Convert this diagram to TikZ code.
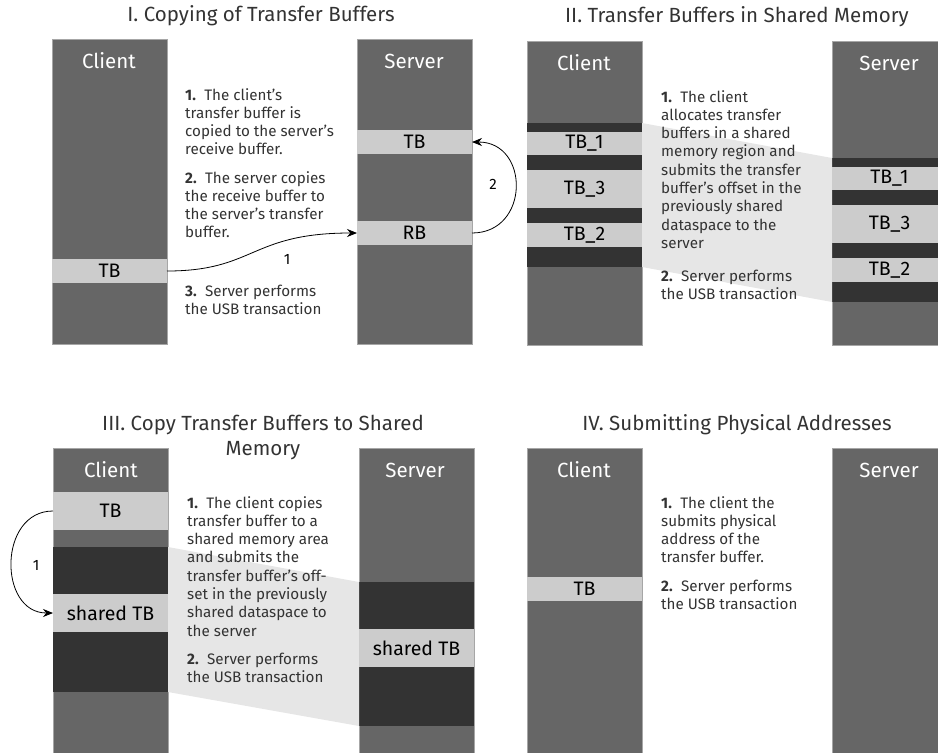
\documentclass[tikz,border=0pt]{standalone}
\usepackage{fontspec}
\setmainfont{Fira Sans}
\usetikzlibrary{arrows.meta}

\definecolor{barfill}{HTML}{666666}
\definecolor{bandfill}{HTML}{333333}
\definecolor{buffill}{HTML}{CCCCCC}
\definecolor{shadefill}{HTML}{E6E6E6}
\definecolor{inktext}{HTML}{333333}
\definecolor{barline}{HTML}{A6A6A6}

\newcommand\stepno[1]{\textbf{#1}\hspace{0.55em}}

\tikzset{
  mem/.style={fill=barfill, draw=barline, line width=0.6pt, inner sep=0pt, outer sep=0pt,
              anchor=north west, minimum width=115},
  band/.style={fill=bandfill, inner sep=0pt, outer sep=0pt, anchor=north west, minimum width=115},
  buf/.style={fill=buffill, inner sep=0pt, outer sep=0pt, anchor=north west, minimum width=115,
              text=black, font=\fontsize{19.5}{19.5}\selectfont},
  barname/.style={text=white, font=\fontsize{20.5}{20.5}\selectfont, inner sep=0pt},
  paneltitle/.style={text=inktext, font=\fontsize{20.5}{25}\selectfont, align=center, inner sep=0pt},
  steptext/.style={text=inktext, font=\fontsize{15.2}{18.3}\selectfont, align=left, anchor=north west, inner sep=0pt},
  conn/.style={draw=black, line width=0.8pt, -{Stealth[length=10pt,width=8pt]}},
  connlabel/.style={text=black, font=\fontsize{15}{15}\selectfont, inner sep=0pt},
  shade/.style={fill=shadefill},
}

\begin{document}
\begin{tikzpicture}[x=1pt,y=-1pt]
\useasboundingbox (0,0) rectangle (938,753);

% ---------------- I. Copying of Transfer Buffers ----------------
\node[paneltitle] (t1) at (261,16) {I. Copying of Transfer Buffers};
\node[mem, minimum height=305] (c1) at (52,39) {};
\node[barname] (c1n) at (109,61) {Client};
\node[buf, minimum height=24] (c1tb) at (52,259) {TB};
\node[mem, minimum height=305] (s1) at (357,39) {};
\node[barname] (s1n) at (414,61) {Server};
\node[buf, minimum height=24] (s1tb) at (357,130) {TB};
\node[buf, minimum height=24] (s1rb) at (357,221) {RB};

\node[steptext] (p1a) at (185,88) {\stepno{1.}The client's\\transfer buffer is\\copied to the server's\\receive buffer.};
\node[steptext] (p1b) at (185,171) {\stepno{2.}The server copies\\the receive buffer to\\the server's transfer\\buffer.};
\node[steptext] (p1c) at (185,285) {\stepno{3.}Server performs\\the USB transaction};

\draw[conn] (c1tb.east) .. controls (255,271) and (250,233) .. (s1rb.west);
\node[connlabel] (l1a) at (287,259) {1};
\draw[conn] (s1rb.east) .. controls (530,233) and (530,142) .. (s1tb.east);
\node[connlabel] (l1b) at (493,184) {2};

% ---------------- II. Transfer Buffers in Shared Memory ----------------
\node[paneltitle] (t2) at (737,17) {II. Transfer Buffers in Shared Memory};
\node[mem, minimum height=304] (c2) at (527,41) {};
\node[mem, minimum height=304] (s2) at (832,41) {};
\node[band, minimum height=144] (c2d) at (527,123) {};
\node[band, minimum height=144] (s2d) at (832,158) {};
\fill[shade] (c2d.north east) -- (s2d.north west) -- (s2d.south west) -- (c2d.south east) -- cycle;
\node[barname] (c2n) at (584,63) {Client};
\node[barname] (s2n) at (889,63) {Server};
\node[buf, minimum height=23] (c2b1) at (527,132) {TB\_1};
\node[buf, minimum height=38] (c2b3) at (527,170) {TB\_3};
\node[buf, minimum height=24] (c2b2) at (527,223) {TB\_2};
\node[buf, minimum height=23] (s2b1) at (832,167) {TB\_1};
\node[buf, minimum height=38] (s2b3) at (832,205) {TB\_3};
\node[buf, minimum height=24] (s2b2) at (832,258) {TB\_2};

\node[steptext] (p2a) at (661,90) {\stepno{1.}The client\\allocates transfer\\buffers in a shared\\memory region and\\submits the transfer\\buffer's offset in the\\previously shared\\dataspace to the\\server};
\node[steptext] (p2b) at (661,270) {\stepno{2.}Server performs\\the USB transaction};

% ---------------- III. Copy Transfer Buffers to Shared Memory ----------------
\node[paneltitle] (t3) at (263,437) {III. Copy Transfer Buffers to Shared\\Memory};
\node[mem, minimum height=310] (c3) at (53,448) {};
\node[mem, minimum height=310] (s3) at (359,448) {};
\node[band, minimum height=145] (c3d) at (53,547) {};
\node[band, minimum height=144] (s3d) at (359,582) {};
\fill[shade] (c3d.north east) -- (s3d.north west) -- (s3d.south west) -- (c3d.south east) -- cycle;
\node[barname] (c3n) at (111,470) {Client};
\node[barname] (s3n) at (415,470) {Server};
\node[buf, minimum height=38] (c3tb) at (53,492) {TB};
\node[buf, minimum height=38] (c3sh) at (53,594) {shared TB};
\node[buf, minimum height=38] (s3sh) at (359,629) {shared TB};

\node[steptext] (p3a) at (187,496) {\stepno{1.}The client copies\\transfer buffer to a\\shared memory area\\and submits the\\transfer buffer's off-\\set in the previously\\shared dataspace to\\the server};
\node[steptext] (p3b) at (187,653) {\stepno{2.}Server performs\\the USB transaction};

\draw[conn] (c3tb.west) .. controls (-2,511) and (-2,613) .. (c3sh.west);
\node[connlabel] (l3a) at (36,565) {1};

% ---------------- IV. Submitting Physical Addresses ----------------
\node[paneltitle] (t4) at (737,425) {IV. Submitting Physical Addresses};
\node[mem, minimum height=310] (c4) at (527,448) {};
\node[mem, minimum height=310] (s4) at (832,448) {};
\node[barname] (c4n) at (584,470) {Client};
\node[barname] (s4n) at (889,470) {Server};
\node[buf, minimum height=24] (c4tb) at (527,577) {TB};

\node[steptext] (p4a) at (661,496) {\stepno{1.}The client the\\submits physical\\address of the\\transfer buffer.};
\node[steptext] (p4b) at (661,580) {\stepno{2.}Server performs\\the USB transaction};
\end{tikzpicture}
\end{document}
